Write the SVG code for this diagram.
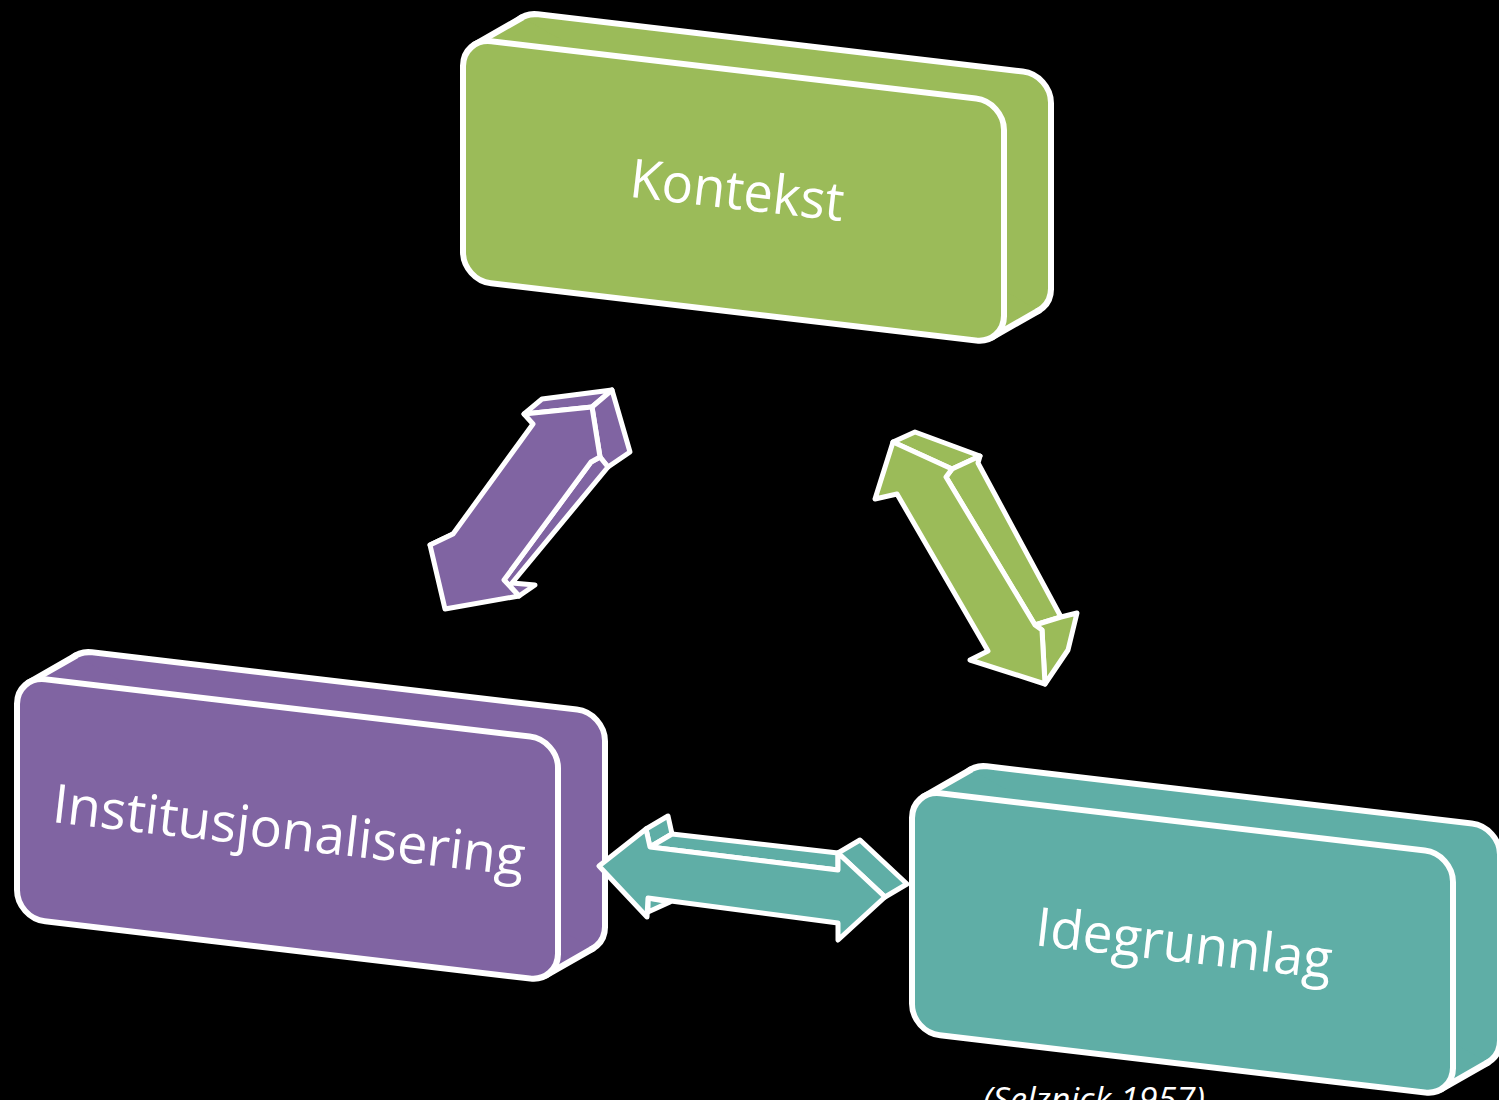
<svg xmlns="http://www.w3.org/2000/svg" xmlns:xlink="http://www.w3.org/1999/xlink" width="1499" height="1100" viewBox="0 0 1499 1100">
<style>
.face{stroke:#fff;stroke-width:6;stroke-linejoin:round}
.edge{fill:none;stroke:#fff;stroke-width:6;stroke-linecap:round}
.ar{stroke:#fff;stroke-width:5;stroke-linejoin:round}
.lbl{fill:#fff;font-family:"Open Sans","Noto Sans",sans-serif;font-size:54px;text-anchor:middle}
.cite{fill:#fff;font-family:"Open Sans","Noto Sans",sans-serif;font-size:33px;font-style:italic}
</style>
<defs>
<g id="box">
<rect x="47" y="-32.5" width="541" height="242" rx="28" class="face"/>
<polygon points="12.1,5 59.1,-27.5 575.9,204.5 528.9,237" stroke="none"/>
<line x1="12.1" y1="5" x2="59.1" y2="-27.5" class="edge"/>
<line x1="528.9" y1="237" x2="575.9" y2="204.5" class="edge"/>
<rect x="0" y="0" width="541" height="242" rx="28" class="face"/>
</g>
</defs>
<rect width="1499" height="1100" fill="#000"/>
<g id="kontekst">
<use xlink:href="#box" transform="matrix(1,0.118,0,1,463,38)" fill="#9BBB59"/>
<text class="lbl" x="735" y="209" transform="rotate(6.5 735 209)" textLength="215" lengthAdjust="spacingAndGlyphs">Kontekst</text>
</g>
<g id="institusjonalisering">
<use xlink:href="#box" transform="matrix(1,0.118,0,1,17,676)" fill="#8064A2"/>
<text class="lbl" x="287" y="849" transform="rotate(6.5 287 849)" textLength="475" lengthAdjust="spacingAndGlyphs">Institusjonalisering</text>
</g>
<g id="idegrunnlag">
<use xlink:href="#box" transform="matrix(1,0.118,0,1,912,790)" fill="#5FAEA6"/>
<text class="lbl" x="1182" y="962" transform="rotate(6.5 1182 962)" textLength="298" lengthAdjust="spacingAndGlyphs">Idegrunnlag</text>
</g>
<g id="connectors">
<g id="arrow-purple" fill="#8064A2">
<polygon class="ar" points="524,414 542,399 612,390 592,407"/>
<polygon class="ar" points="592,407 612,390 630,452 608,467 600,457"/>
<polygon class="ar" points="591,462 600,457 608,467 512,583 535,585 519,596 504,580"/>
<polygon class="ar" points="430,545 453,534 446,541"/>
<polygon class="ar" points="524,414 592,407 600,457 591,462 504,580 519,596 445,609 430,545 453,534 533,424"/>
</g>
<g id="arrow-green" fill="#9BBB59">
<polygon class="ar" points="893,442 915,432 980,456 952,469"/>
<polygon class="ar" points="952,469 980,456 978,463 1061,617 1035,625 946,477"/>
<polygon class="ar" points="1035,625 1061,617 1077,613 1068,650 1045,684 1042,630"/>
<polygon class="ar" points="893,442 952,469 946,477 1035,625 1042,630 1045,684 970,660 988,651 897,494 875,499"/>
</g>
<g id="arrow-teal" fill="#5FAEA6">
<polygon class="ar" points="646,829 668,816 672,834 650,847"/>
<polygon class="ar" points="650,847 672,834 838,853 838,870"/>
<polygon class="ar" points="838,853 860,840 907,884 885,897"/>
<polygon class="ar" points="648,898 670,902 648,912"/>
<polygon class="ar" points="599,866 646,829 650,847 838,870 838,853 885,897 838,940 838,923 648,898 647,917"/>
</g>
</g>
<text class="cite" x="983" y="1111" textLength="222" lengthAdjust="spacingAndGlyphs">(Selznick 1957)</text>
</svg>
